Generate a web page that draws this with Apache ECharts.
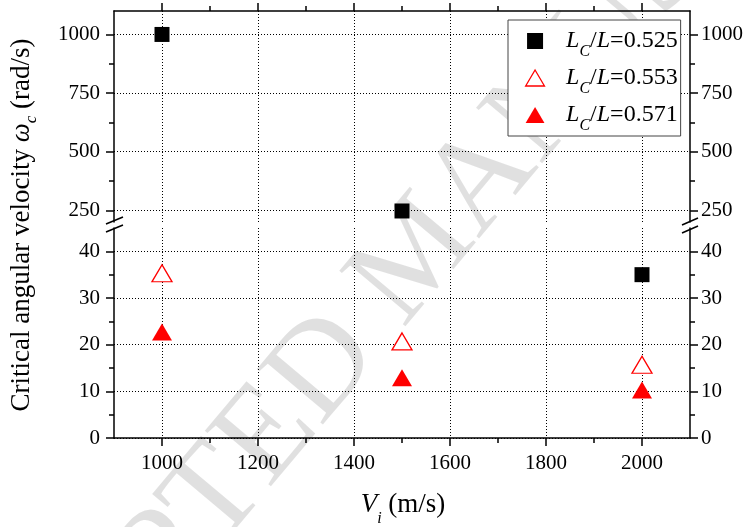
<!DOCTYPE html>
<html><head><meta charset="utf-8">
<script src="https://cdn.jsdelivr.net/npm/echarts@6/dist/echarts.min.js"></script>
<style>html,body{margin:0;padding:0;background:#fff}#c{width:749px;height:527px}</style>
</head><body><div id="c"></div>
<script>
// ---- data ----
const velocities = [1000, 1500, 2000];
const ratios = ['0.525', '0.553', '0.571'];
const omega0525 = [1000, 247, 35];
const omega0553 = [35.3, 20.7, 15.7];
const omega0571 = [22.7, 12.9, 10.3];
const xRange = [900, 2100];
const xMajorTicks = [1000, 1200, 1400, 1600, 1800, 2000];
const xMinorTicks = [1100, 1300, 1500, 1700, 1900];
const upperRange = [200, 1100];
const upperMajorTicks = [250, 500, 750, 1000];
const upperMinorTicks = [375, 625, 875];
const lowerRange = [0, 45];
const lowerMajorTicks = [0, 10, 20, 30, 40];
const lowerMinorTicks = [5, 15, 25, 35];

const F = 'Liberation Serif';
const BLACK = '#000';
const dotted = { show: true, lineStyle: { color: '#000', width: 1, type: [1, 2] } };
const plain = v => String(v);

function xAxes(grid, pos, showLabel) {
  return [
    { gridIndex: grid, type: 'value', position: pos, min: xRange[0], max: xRange[1],
      axisLine: { show: true, onZero: false, lineStyle: { color: BLACK, width: 1.5 } },
      axisTick: { show: true, inside: false, length: 8, customValues: xMajorTicks, lineStyle: { color: BLACK, width: 1.5 } },
      axisLabel: { show: showLabel, customValues: xMajorTicks, formatter: plain, margin: 15, color: BLACK, fontFamily: F, fontSize: 21 },
      splitLine: dotted },
    { gridIndex: grid, type: 'value', position: pos, min: xRange[0], max: xRange[1],
      axisLine: { show: false, onZero: false },
      axisTick: { show: true, inside: false, length: 5, customValues: xMinorTicks, lineStyle: { color: BLACK, width: 1.5 } },
      axisLabel: { show: false }, splitLine: { show: false } }
  ];
}
function yAxes(grid, range, major, minor) {
  const out = [];
  ['left', 'right'].forEach(pos => {
    out.push({ gridIndex: grid, type: 'value', position: pos, min: range[0], max: range[1],
      axisLine: { show: true, onZero: false, lineStyle: { color: BLACK, width: 1.5 } },
      axisTick: { show: true, inside: false, length: 8, customValues: major, lineStyle: { color: BLACK, width: 1.5 } },
      axisLabel: { show: true, customValues: major, formatter: plain, margin: pos === 'left' ? 14 : 11, color: BLACK, fontFamily: F, fontSize: 21 },
      splitLine: pos === 'left' ? dotted : { show: false } });
    out.push({ gridIndex: grid, type: 'value', position: pos, min: range[0], max: range[1],
      axisLine: { show: false, onZero: false },
      axisTick: { show: true, inside: false, length: 5, customValues: minor, lineStyle: { color: BLACK, width: 1.5 } },
      axisLabel: { show: false }, splitLine: { show: false } });
  });
  return out;
}

const styles = [
  { symbol: 'rect', symbolSize: 15, itemStyle: { color: '#000', opacity: 1 } },
  { symbol: 'triangle', symbolSize: [20, 17], itemStyle: { color: '#fff', borderColor: '#ff0000', borderWidth: 1.3, opacity: 1 } },
  { symbol: 'triangle', symbolSize: [20, 17], itemStyle: { color: '#ff0000', opacity: 1 } }
];
const allValues = [omega0525, omega0553, omega0571];
const names = ratios.map(r => 'Lc/L=' + r);

function pts(vals, range) {
  return velocities.map((v, i) => [v, vals[i]]).filter(p => p[1] >= range[0] && p[1] <= range[1]);
}
const series = [];
allValues.forEach((vals, k) => {
  series.push(Object.assign({ type: 'scatter', name: names[k], xAxisIndex: 0, yAxisIndex: 0,
    data: pts(vals, upperRange), z: 5, emphasis: { disabled: true } }, styles[k]));
  series.push(Object.assign({ type: 'scatter', name: names[k], xAxisIndex: 2, yAxisIndex: 4,
    data: pts(vals, lowerRange), z: 5, emphasis: { disabled: true } }, styles[k]));
});

const icons = ['path://M0,0L10,0L10,10L0,10Z', 'path://M10,0L20,17L0,17Z', 'path://M10,0L20,17L0,17Z'];

const chart = echarts.init(document.getElementById('c'), null, { renderer: 'canvas' });
chart.setOption({
  animation: false,
  backgroundColor: '#fff',
  grid: [
    { left: 114, right: 59, top: 11, height: 211 },
    { left: 114, right: 59, top: 228, height: 210 }
  ],
  xAxis: [].concat(xAxes(0, 'top', false), xAxes(1, 'bottom', true)),
  yAxis: [].concat(yAxes(0, upperRange, upperMajorTicks, upperMinorTicks), yAxes(1, lowerRange, lowerMajorTicks, lowerMinorTicks)),
  legend: {
    orient: 'vertical', left: 508, top: 20,
    padding: [9, 3, 2, 17], itemGap: 6, itemWidth: 20, itemHeight: 16,
    backgroundColor: '#fff', borderColor: '#444', borderWidth: 1,
    selectedMode: false,
    data: names.map((n, k) => ({ name: n, icon: icons[k],
      itemStyle: k === 1 ? { borderWidth: 1.3, borderColor: '#ff0000', color: '#fff' } : undefined })),
    formatter: function (name) {
      return '{i0|L}{s|C}{n|/}{i|L}{n|=' + name.split('=')[1] + '}';
    },
    textStyle: {
      fontFamily: F, fontSize: 24, color: '#000',
      rich: {
        i0: { fontFamily: F, fontSize: 24, fontStyle: 'italic', color: '#000', verticalAlign: 'top', padding: [7, 0, 0, 16] },
        i: { fontFamily: F, fontSize: 24, fontStyle: 'italic', color: '#000', verticalAlign: 'top', padding: [7, 0, 0, 0] },
        n: { fontFamily: F, fontSize: 24, color: '#000', verticalAlign: 'top', padding: [7, 0, 0, 0] },
        s: { fontFamily: F, fontSize: 16, fontStyle: 'italic', color: '#000', verticalAlign: 'top', padding: [22, 0, 0, 0] }
      }
    }
  },
  graphic: [
    { type: 'text', z: -10, silent: true, x: 420, y: 255, rotation: 50 * Math.PI / 180,
      style: { text: 'ACCEPTED MANUSCRIPT', fill: 'rgba(0,0,0,0.12)', font: '132px "Liberation Serif"', align: 'center', verticalAlign: 'middle' } },
    { type: 'line', z: 100, shape: { x1: 106, y1: 224, x2: 123, y2: 217 }, style: { stroke: '#000', lineWidth: 1.5 } },
    { type: 'line', z: 100, shape: { x1: 106, y1: 232, x2: 123, y2: 225 }, style: { stroke: '#000', lineWidth: 1.5 } },
    { type: 'line', z: 100, shape: { x1: 682, y1: 225, x2: 698, y2: 218 }, style: { stroke: '#000', lineWidth: 1.5 } },
    { type: 'line', z: 100, shape: { x1: 682, y1: 233, x2: 698, y2: 226 }, style: { stroke: '#000', lineWidth: 1.5 } },
    { type: 'text', z: 100, x: 24, y: 225, rotation: Math.PI / 2,
      style: { text: '{n|Critical angular velocity }{i|ω}{s|c}{n| (rad/s)}', align: 'center', verticalAlign: 'middle',
        rich: {
          n: { fontFamily: F, fontSize: 27, fill: '#000', verticalAlign: 'top' },
          i: { fontFamily: F, fontSize: 27, fontStyle: 'italic', fill: '#000', verticalAlign: 'top' },
          s: { fontFamily: F, fontSize: 17, fontStyle: 'italic', fill: '#000', verticalAlign: 'top', padding: [15, 0, 0, 0] }
        } } },
    { type: 'text', z: 100, x: 403, y: 509,
      style: { text: '{i|V}{s|i}{n| (m/s)}', align: 'center', verticalAlign: 'middle',
        rich: {
          n: { fontFamily: F, fontSize: 27, fill: '#000', verticalAlign: 'top' },
          i: { fontFamily: F, fontSize: 27, fontStyle: 'italic', fill: '#000', verticalAlign: 'top' },
          s: { fontFamily: F, fontSize: 16, fontStyle: 'italic', fill: '#000', verticalAlign: 'top', padding: [19, 0, 0, 0] }
        } } }
  ],
  series: series
});
</script></body></html>
